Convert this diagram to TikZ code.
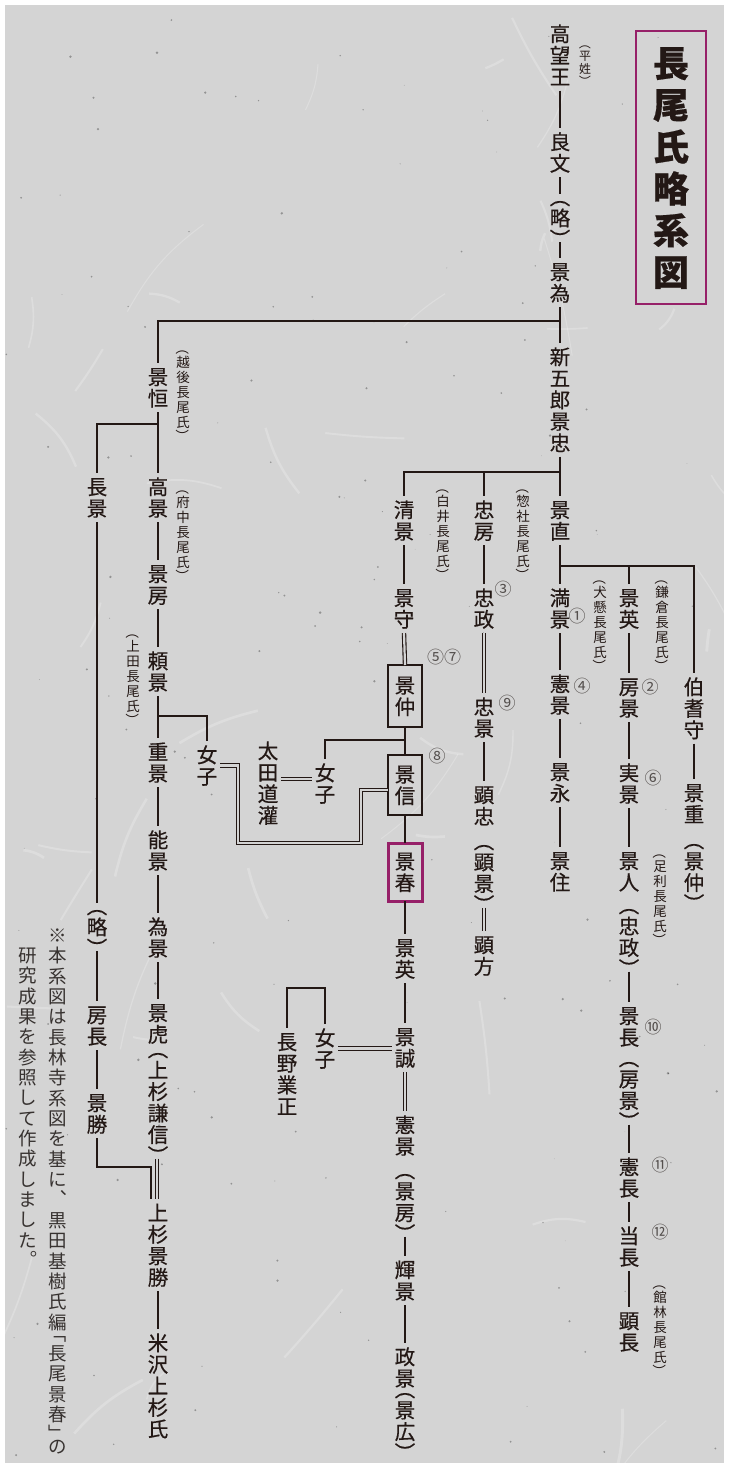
\documentclass[tikz,border=0pt]{standalone}
\usepackage{fontspec}
\usepackage{graphicx}
\newfontfamily\jpv[FakeBold=0.5]{Noto Sans CJK JP}
\newfontfamily\jp{Noto Sans CJK JP}
\definecolor{ink}{RGB}{35,24,21}
\definecolor{paper}{RGB}{212,212,212}
\definecolor{mag}{RGB}{150,32,104}
\definecolor{notec}{RGB}{55,50,48}
\definecolor{numc}{RGB}{85,80,78}
\ExplSyntaxOn
\cs_new:Npn \rk_cell:nnn #1#2#3
 { \vbox_to_ht:nn {#1} { \skip_vertical:n {#2} \hbox:n { \smash{#3} } \vss } }
\cs_new:Npn \rk_rot:nn #1#2
 { \rotatebox[origin=c]{#1}{ \hbox_to_wd:nn {1em} { \rule[-0.12em]{0pt}{1em} #2 \hss } } }
\NewDocumentCommand \vt { O{1.05} O{0.5} m }
 {
  \vbox:n
   {
    \offinterlineskip
    \tl_map_inline:nn {#3}
     {
      \str_case:nnF {##1}
       {
        {（} { \rk_cell:nnn {#2em} {#2em - 0.12em} { \rk_rot:nn {-90} {（} } }
        {「} { \rk_cell:nnn {#2em} {#2em - 0.12em} { \rk_rot:nn {-90} {「} } }
        {）} { \rk_cell:nnn {#2em} {0.88em} { \rk_rot:nn {-90} {）} } }
        {」} { \rk_cell:nnn {#2em} {0.88em} { \rk_rot:nn {-90} {」} } }
        {、} { \rk_cell:nnn {#1em} {0.88em} { \rk_rot:nn {180} {、} } }
        {。} { \rk_cell:nnn {#1em} {0.88em} { \rk_rot:nn {180} {。} } }
       }
       { \rk_cell:nnn {#1em} {(#1em - 1em) / 2 + 0.88em} { \hbox_to_wd:nn {1em} { \hss ##1 \hss } } }
     }
   }
 }
\ExplSyntaxOff
\newcommand\va[1]{\vt[1.1][0.55]{#1}}
\tikzset{
 nm/.style={inner sep=0pt, outer sep=3pt, anchor=north, text=ink, font=\jpv\fontsize{20.5}{21}\selectfont},
 ann/.style={inner sep=0pt, outer sep=0pt, anchor=north, text=ink, font=\jp\fontsize{13.5}{14}\selectfont},
 num/.style={inner sep=0pt, text=numc, font=\jp\fontsize{17}{17}\selectfont},
 famebox/.style={draw=ink, line width=1.5pt, inner sep=0pt, outer sep=0pt, minimum width=34pt, minimum height=61pt, text=ink, font=\jpv\fontsize{20.5}{21}\selectfont},
 ln/.style={draw=ink, line width=2pt},
 dbl/.style={draw=ink, line width=1.1pt, double=paper, double distance=2.2pt},
}
\begin{document}
\begin{tikzpicture}[x=1pt,y=-1pt]
\useasboundingbox (0,0) rectangle (729,1468);
\fill[white] (0,0) rectangle (729,1468);
\fill[paper] (5,5) rectangle (724,1463);
% paper texture
\begin{scope}
\clip (5,5) rectangle (724,1463);
\pgfmathsetseed{11}
\foreach \i in {1,...,45}
  {\draw[white, opacity=0.22, line width={1+2*rnd}] ({rnd*729},{rnd*1468}) to[bend left={40*rnd-20}] ++({160*rnd-80},{160*rnd-40});}
\foreach \i in {1,...,160}
  {\fill[black, opacity=0.3] ({5+rnd*719},{5+rnd*1458}) circle ({0.3+rnd*1.1});}
\end{scope}
% title
\node[draw=mag, line width=1.2pt, inner sep=0pt, minimum width=70pt, minimum height=273pt, text=ink, font=\jpv\bfseries\fontsize{36}{36}\selectfont] (title) at (671,167.5) {\vt[1.16]{長尾氏略系図}};
% main column
\node[nm] (kobo) at (560,20) {\vt{高望王}};
\node[ann, font=\jp\fontsize{12}{12}\selectfont] (heisei) at (585,43) {\vt[1.08][0.55]{（平姓）}};
\node[nm] (yoshifumi) at (560,128) {\vt{良文}};
\node[nm] (ryaku1) at (560,194) {\vt{（略）}};
\node[nm] (kagetame) at (560,258) {\vt{景為}};
\node[nm] (shingoro) at (560,343) {\vt{新五郎景忠}};
\node[nm] (kagenao) at (560,496) {\vt{景直}};
\node[nm] (mitsukage) at (560,584) {\vt{満景}};
\node[nm] (norikage) at (560,670) {\vt{憲景}};
\node[nm] (kagenaga) at (560,758) {\vt{景永}};
\node[nm] (kagezumi) at (560,847) {\vt{景住}};
% x=629
\node[nm] (kagehide) at (629,584) {\vt{景英}};
\node[nm] (fusakage) at (629,673) {\vt{房景}};
\node[nm] (sanekage) at (629,759) {\vt{実景}};
\node[nm] (kagehito) at (629,847) {\vt{景人}};
\node[nm] (tadamasa2) at (629,902) {\vt{（忠政）}};
\node[nm] (kagenaga2) at (629,1002) {\vt{景長}};
\node[nm] (fusakage2) at (629,1055) {\vt{（房景）}};
\node[nm] (norinaga) at (629,1153) {\vt{憲長}};
\node[nm] (masanaga) at (629,1222) {\vt{当長}};
\node[nm] (akinaga) at (629,1307) {\vt{顕長}};
% x=694
\node[nm] (hokinokami) at (694,673) {\vt{伯耆守}};
\node[nm] (kageshige) at (694,779) {\vt{景重}};
\node[nm] (kagenaka2) at (694,837) {\vt{（景仲）}};
% x=404
\node[nm] (kiyokage) at (404,496) {\vt{清景}};
\node[nm] (kagemori) at (404,584) {\vt{景守}};
\node[famebox, minimum height=62pt] (kagenaka) at (405,696) {\vt{景仲}};
\node[famebox, minimum height=60pt] (kagenobu) at (405,785) {\vt{景信}};
\node[famebox, draw=mag, line width=3pt, minimum width=34pt, minimum height=58pt] (kageharu) at (405,872) {\vt{景春}};
\node[nm] (kagehide2) at (405,934) {\vt{景英}};
\node[nm] (kagenari) at (405,1023) {\vt{景誠}};
\node[nm] (norikage2) at (405,1111) {\vt{憲景}};
\node[nm] (kagefusa4) at (405,1167) {\vt{（景房）}};
\node[nm] (terukage) at (405,1256) {\vt{輝景}};
\node[nm] (masakage) at (405,1343) {\vt{政景（景広）}};
% x=484
\node[nm] (tadafusa) at (484,496) {\vt{忠房}};
\node[nm] (tadamasa) at (484,584) {\vt{忠政}};
\node[nm] (tadakage) at (484,693) {\vt{忠景}};
\node[nm] (akitada) at (484,781) {\vt{顕忠}};
\node[nm] (akikage) at (484,838) {\vt{（顕景）}};
\node[nm] (akikata) at (484,931) {\vt{顕方}};
% x=158
\node[nm] (kagetsune) at (158,363) {\vt{景恒}};
\node[nm] (takakage) at (158,473) {\vt{高景}};
\node[nm] (kagefusa3) at (158,560) {\vt{景房}};
\node[nm] (yorikage) at (158,647) {\vt{頼景}};
\node[nm] (shigekage) at (158,738) {\vt{重景}};
\node[nm] (yoshikage) at (158,826) {\vt{能景}};
\node[nm] (tamekage) at (158,913) {\vt{為景}};
\node[nm] (kagetora) at (158,999) {\vt{景虎}};
\node[nm] (kenshin) at (158,1046) {\vt{（上杉謙信）}};
\node[nm] (kagekatsu) at (158,1199) {\vt{上杉景勝}};
\node[nm] (yonezawa) at (158,1329) {\vt{米沢上杉氏}};
% x=97
\node[nm] (nagakage) at (97,473) {\vt{長景}};
\node[nm] (ryaku2) at (97,903) {\vt{（略）}};
\node[nm] (fusanaga) at (97,1001) {\vt{房長}};
\node[nm] (kagekatsu0) at (97,1089) {\vt{景勝}};
% others
\node[nm] (onna1) at (207,741) {\vt{女子}};
\node[nm] (ota) at (268,737) {\vt{太田道灌}};
\node[nm] (onna2) at (325,759) {\vt{女子}};
\node[nm] (onna3) at (325,1024) {\vt{女子}};
\node[nm] (nagano) at (287,1028) {\vt{長野業正}};
% annotations
\node[ann] (echigo) at (183,348) {\va{（越後長尾氏）}};
\node[ann] (fuchu) at (183,488) {\va{（府中長尾氏）}};
\node[ann] (ueda) at (133,632) {\va{（上田長尾氏）}};
\node[ann] (shirai) at (443,487) {\va{（白井長尾氏）}};
\node[ann] (sosha) at (523,487) {\va{（惣社長尾氏）}};
\node[ann] (inukake) at (600,578) {\va{（犬懸長尾氏）}};
\node[ann] (kamakura) at (662,578) {\va{（鎌倉長尾氏）}};
\node[ann] (ashikaga) at (660,852) {\va{（足利長尾氏）}};
\node[ann] (tatebayashi) at (660,1283) {\va{（館林長尾氏）}};
% circled numbers
\node[num] (n1) at (577,616) {①};
\node[num] (n2) at (650,687) {②};
\node[num] (n3) at (503,589) {③};
\node[num] (n4) at (582,686) {④};
\node[num] (n57) at (444,657) {⑤⑦};
\node[num] (n6) at (653,778) {⑥};
\node[num] (n8) at (437,756) {⑧};
\node[num] (n9) at (507,703) {⑨};
\node[num] (n10) at (653,1027) {⑩};
\node[num] (n11) at (660,1165) {⑪};
\node[num] (n12) at (660,1232) {⑫};
% note
\node[anchor=north, inner sep=0pt, text=notec, font=\jp\fontsize{18.5}{18}\selectfont] (note1) at (58,925) {\vt[1.1][0.6]{※本系図は長林寺系図を基に、黒田基樹氏編「長尾景春」の}};
\node[anchor=north, inner sep=0pt, text=notec, font=\jp\fontsize{18.5}{18}\selectfont] (note2) at (28,945) {\vt[1.1][0.6]{研究成果を参照して作成しました。}};
% junctions
\coordinate (j1) at (560,321);
\coordinate (j2) at (560,472);
\coordinate (j3) at (560,566);
\coordinate (j4) at (158,424);
\coordinate (j5) at (158,716);
\coordinate (j6) at (405,740);
\coordinate (j7) at (150.5,1167);
\coordinate (j8) at (306,988);
\coordinate (j9) at (238,843);
\coordinate (j10) at (361,843);
% single lines
\foreach \a/\b in {kobo/yoshifumi, yoshifumi/ryaku1, ryaku1/kagetame, kagetame/shingoro, shingoro/kagenao, kagenao/mitsukage, mitsukage/norikage, norikage/kagenaga, kagenaga/kagezumi, kagehide/fusakage, fusakage/sanekage, sanekage/kagehito, tadamasa2/kagenaga2, fusakage2/norinaga, norinaga/masanaga, masanaga/akinaga, hokinokami/kageshige, kiyokage/kagemori, kagenaka/kagenobu, kagenobu/kageharu, kageharu/kagehide2, kagehide2/kagenari, kagefusa4/terukage, terukage/masakage, tadafusa/tadamasa, tadakage/akitada, kagetsune/takakage, takakage/kagefusa3, kagefusa3/yorikage, yorikage/shigekage, shigekage/yoshikage, yoshikage/tamekage, tamekage/kagetora, kagekatsu/yonezawa, nagakage/ryaku2, ryaku2/fusanaga, fusanaga/kagekatsu0}
  {\draw[ln] (\a.south) -- (\b.north);}
% branches
\draw[ln] (j1) -| (kagetsune.north);
\draw[ln] (j2) -| (kiyokage.north);
\draw[ln] (tadafusa.north |- j2) -- (tadafusa.north);
\draw[ln] (j3) -| (hokinokami.north);
\draw[ln] (kagehide.north |- j3) -- (kagehide.north);
\draw[ln] (j4) -| (nagakage.north);
\draw[ln] (j5) -| (onna1.north);
\draw[ln] (j6) -| (onna2.north);
\draw[ln] (kagekatsu0.south) |- (j7) -- (j7 |- kagekatsu.north);
\draw[ln] (onna3.north) |- (j8) -| (nagano.north);
% double lines
\draw[dbl] (kagemori.south) -- (kagenaka.north);
\draw[dbl] (kagenari.south) -- (norikage2.north);
\draw[dbl] (tadamasa.south) -- (tadakage.north);
\draw[dbl] (akikage.south) -- (akikata.north);
\draw[dbl] ([xshift=-1pt]kenshin.south) -- ([xshift=-1pt]kagekatsu.north);
\draw[dbl] (ota.east |- 0,779) -- (onna2.west |- 0,779);
\draw[dbl] (onna3.east) -- (kagenari.west |- onna3.east);
\draw[dbl] (onna1.east) -| (j9) -- (j10) |- ([yshift=-5pt]kagenobu.west);
\end{tikzpicture}
\end{document}
